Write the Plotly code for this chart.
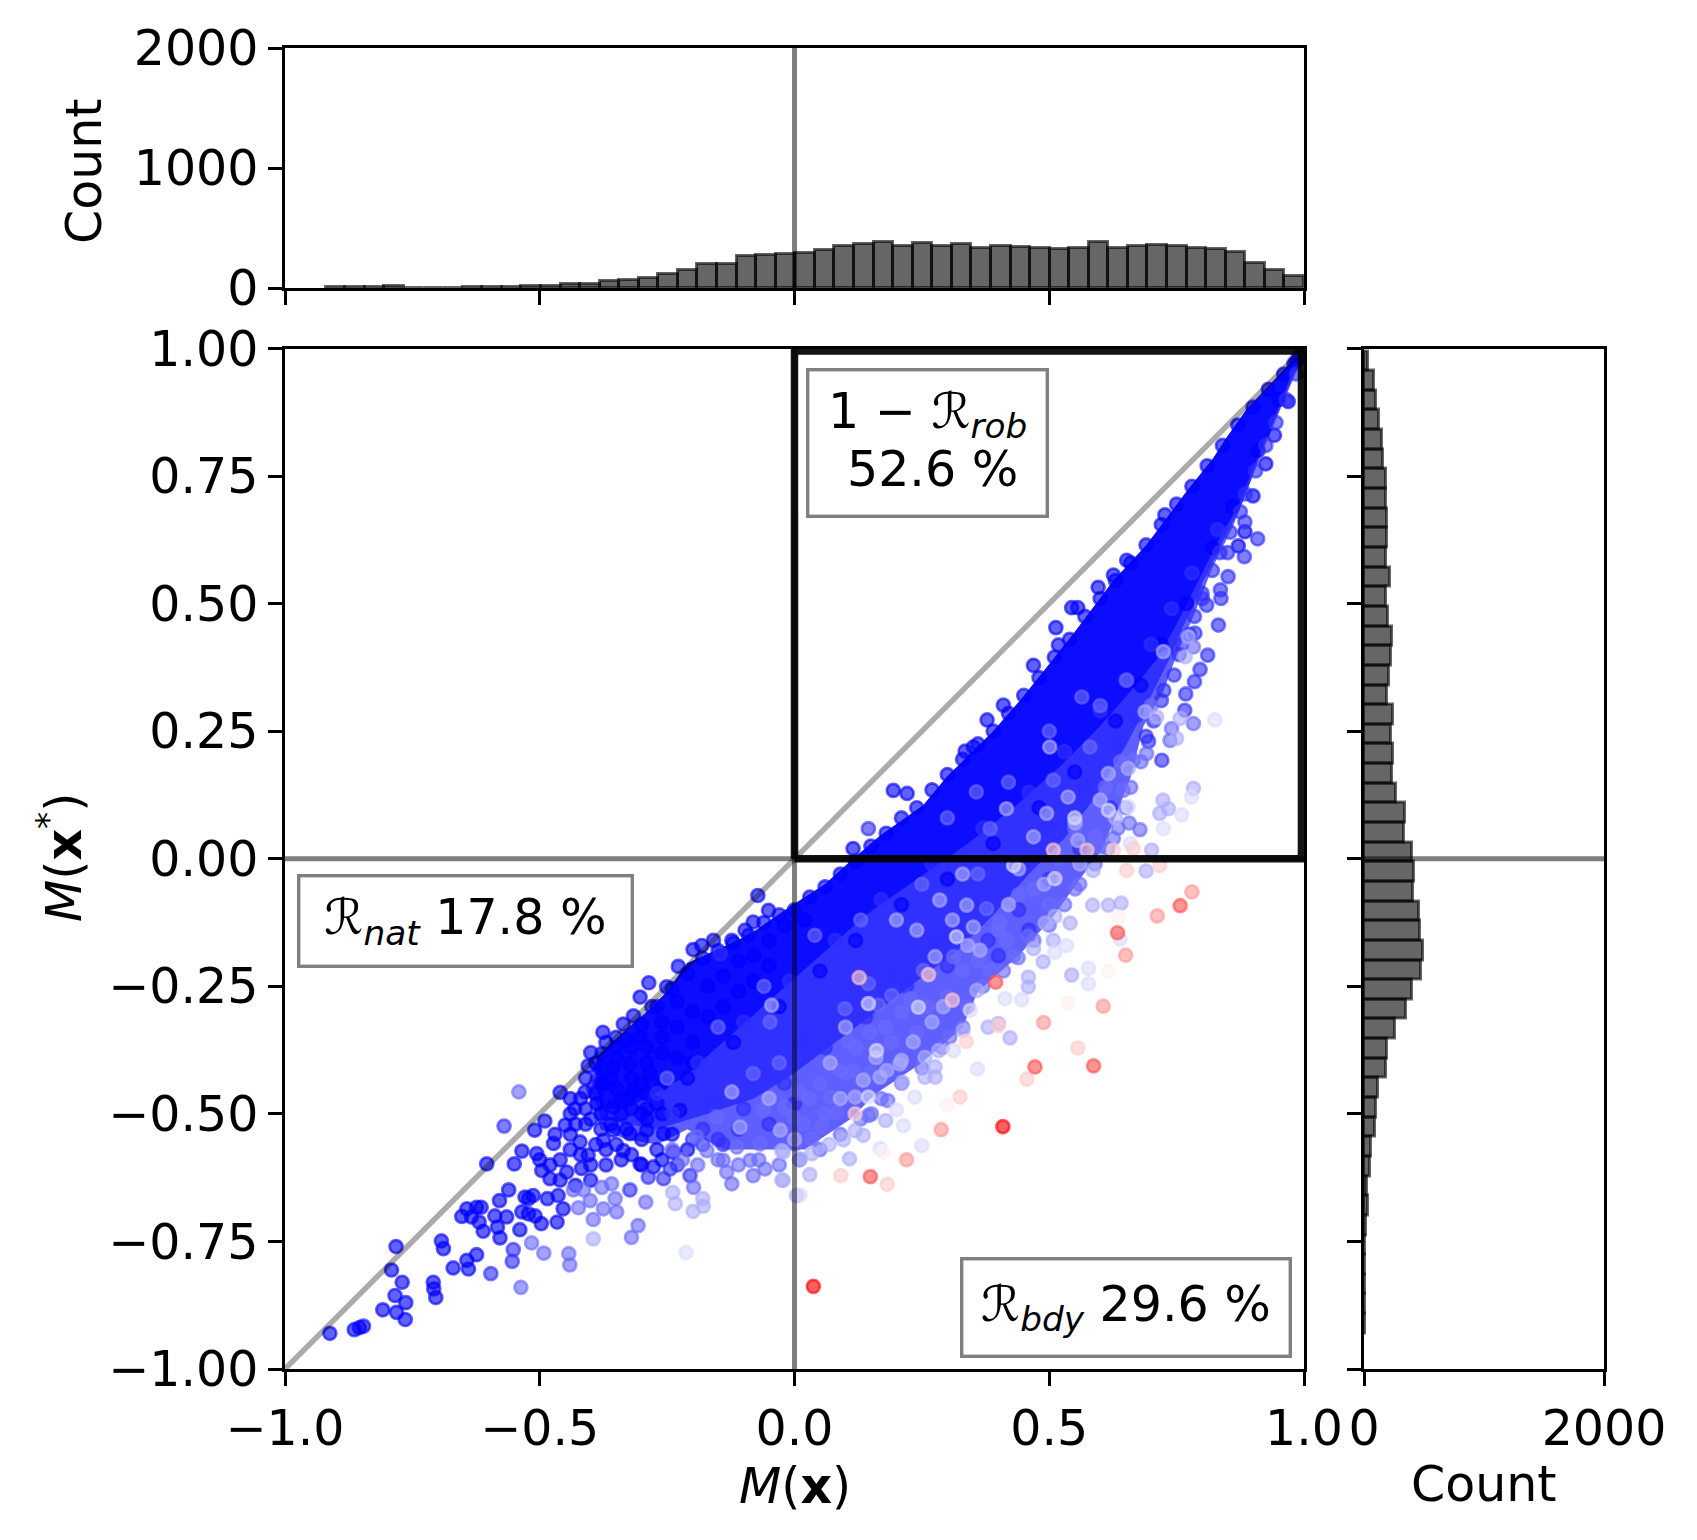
import plotly.graph_objects as go

W, H = 1697, 1540

# ---------- histogram counts ----------
top_bin_start, top_bin_width = -0.92, 0.0384
top_counts = [6,6,6,14,2,2,2,12,12,10,18,18,35,35,55,65,80,120,148,203,203,265,272,280,288,
              314,347,364,380,347,372,352,364,336,347,341,330,324,330,380,330,347,355,347,330,322,298,209,148,98]
right_bin_start, right_bin_width = -0.93, 0.0385
right_counts = [5,8,8,8,8,17,33,28,50,55,92,100,117,183,192,258,350,400,475,492,467,455,408,417,400,
                330,339,264,230,239,222,239,192,208,222,230,200,180,217,180,192,192,183,183,158,147,122,100,80,30]

# ---------- dense parts of the cloud, traced as outlines ----------
upper_edge = [(-.01,-.095),(.06,-.05),(.11,-.005),(.168,.045),(.253,.105),(.299,.16),(.39,.25),(.443,.31),
              (.495,.375),(.547,.44),(.626,.545),(.691,.615),(.77,.72),(.822,.785),(.848,.825),(.887,.88),(.972,.97),(.99,.985)]
lower_left_edge = [(-.385,-.385),(-.33,-.335),(-.29,-.30),(-.25,-.26),(-.21,-.205),(-.155,-.18),(-.09,-.15)]
cloud_outer = upper_edge + [(.985,.955),(.945,.86),(.915,.79),(.88,.70),(.86,.65),(.82,.57),(.785,.48),(.75,.40),(.725,.33),
               (.685,.26),(.66,.16),(.605,.02),(.56,-.04),(.51,-.11),(.44,-.19),(.36,-.26),(.33,-.33),(.25,-.40),(.16,-.46),
               (.11,-.51),(.02,-.57),(-.05,-.57),(-.14,-.57),(-.21,-.53),(-.27,-.56),(-.33,-.55),(-.38,-.53),(-.41,-.45)] + lower_left_edge
cloud_mid = upper_edge + [(.985,.96),(.945,.865),(.915,.795),(.88,.70),(.845,.63),(.80,.54),(.765,.46),(.735,.39),(.70,.32),(.655,.23),
             (.59,.12),(.53,.04),(.46,-.03),(.39,-.11),(.32,-.18),(.24,-.24),(.16,-.30),(.08,-.36),(.0,-.42),(-.08,-.47),(-.17,-.50),
             (-.27,-.53),(-.33,-.52),(-.38,-.51),(-.40,-.45)] + lower_left_edge
cloud_core = upper_edge + [(.98,.96),(.94,.86),(.91,.79),(.87,.69),(.83,.62),(.79,.54),(.75,.46),(.71,.39),(.67,.34),(.60,.26),(.52,.18),(.43,.10),
              (.34,.03),(.24,-.04),(.14,-.11),(.05,-.19),(-.04,-.27),(-.13,-.35),(-.22,-.43),(-.33,-.49),(-.38,-.49),(-.39,-.44)] + lower_left_edge

# ---------- individually readable points, grouped by colour value (-1 blue ... 0 white ... +1 red) ----------
pts_blue_full = [(-.912,-.93),(-.864,-.923),(-.854,-.919),(-.846,-.916),(-.808,-.884),(-.781,-.889),(-.764,-.903),(-.763,-.87),
 (-.784,-.856),(-.77,-.83),(-.791,-.806),(-.782,-.76),(-.704,-.86),(-.708,-.843),(-.709,-.83),(-.67,-.802),(-.64,-.804),(-.643,-.787),
 (-.624,-.776),(-.693,-.749),(-.689,-.764),(-.604,-.598),(-.55,-.598),(-.535,-.573),(-.46,-.458),(-.51,-.532),(-.49,-.514),
 (-.561,-.649),(-.579,-.67),(-.653,-.701),(-.643,-.686),(-.624,-.683),(-.615,-.683),(-.634,-.702),(-.619,-.712),(-.611,-.73),
 (-.588,-.70),(-.565,-.702),(-.583,-.722),(-.578,-.743),(-.539,-.727),(-.529,-.663),(-.513,-.66),(-.522,-.666),(-.535,-.692),
 (-.522,-.696),(-.509,-.70),(-.497,-.715),(-.485,-.666),(-.464,-.66),(-.454,-.686),(-.466,-.712),(-.506,-.578),(-.496,-.611),
 (-.48,-.627),(-.447,-.614),(-.418,-.607),(-.405,-.581),(-.473,-.558),(-.45,-.522),(-.421,-.555),(-.431,-.49),(-.411,-.457),
 (-.405,-.406),(-.378,-.382),(-.349,-.389),(-.323,-.402),(-.356,-.408),(-.375,-.441),(-.388,-.48),(-.356,-.487),(-.316,-.454),
 (-.284,-.421),(-.27,-.48),(-.356,-.532),(-.375,-.552),(-.336,-.572),(-.29,-.532),(-.277,-.604),(-.238,-.575),(-.323,-.539),
 (-.257,-.539),(-.225,-.493),(-.303,-.598),(-.286,-.243),(-.303,-.271),(-.228,-.211),(-.199,-.178),(-.182,-.17),(-.159,-.16),
 (-.123,-.16),(-.28,-.29),(-.316,-.308),(-.336,-.324),(-.376,-.34),(-.303,-.349),(-.072,-.072),(-.051,-.101),(-.097,-.14),
 (-.081,-.124),(-.251,-.251),(.596,.532),(.544,.492),(.556,.492),(.513,.453),(.518,.419),(.469,.379),(.41,.301),(.378,.272),
 (.351,.219),(.335,.211),(.194,.134),(.221,.128),(.115,.02),(.727,.674),(.652,.585),(.626,.556),(.969,.896),(.942,.83),(.925,.774),
 (.90,.711),(.884,.641),(.871,.613),(.95,.90),(.91,.80),(.86,.69),(.82,.61),(.77,.50),(.72,.42),(.68,.34),(.63,.27),(.55,.17),
 (.48,.10),(.39,.03),(.30,-.04),(.21,-.09),(.12,-.16),(.05,-.22),(-.03,-.29),(-.12,-.36),(-.21,-.43),(-.30,-.50),(.99,.985),(.98,.97),
 (-.30,-.325),(-.27,-.29),(-.24,-.255),(-.21,-.225),(-.18,-.195),(-.15,-.18),(-.12,-.165),(-.09,-.15),(-.06,-.125),(-.03,-.11),(0,-.10),
 (.03,-.075),(.06,-.055),(.09,-.03),(.12,-.005),(.15,.025),(.18,.05),(.21,.08),(.24,.10),(.27,.135),(.30,.165),(.33,.195),(.36,.225),
 (.39,.25),(.42,.285),(.45,.32),(.48,.355),(.51,.395),(.54,.43),(.57,.475),(.60,.51),(.63,.545),(.66,.58),(.69,.615),(.72,.655),(.75,.695),
 (.78,.73),(.81,.77),(.84,.81),(.87,.85),(.90,.885),(.93,.92),(.96,.95),(.985,.975),
 (-.44,-.57),(-.44,-.54),(-.41,-.52),(-.41,-.49),(-.41,-.43),(-.38,-.53),(-.38,-.50),(-.38,-.44),(-.38,-.41),(-.35,-.56),(-.35,-.45),
 (-.35,-.35),(-.35,-.37),(-.32,-.37),(-.32,-.58),(-.32,-.49),(-.32,-.46),(-.32,-.43),(-.29,-.37),(-.29,-.40),(-.29,-.46),(-.29,-.49),
 (-.26,-.32),(-.26,-.35),(-.26,-.38),(-.26,-.44),(-.23,-.28),(-.23,-.33),(-.23,-.39),(-.20,-.30),(-.20,-.36),(-.20,-.40),(-.17,-.25),
 (-.17,-.31),(-.14,-.23),(-.14,-.29),(-.11,-.20),(-.11,-.26),(-.08,-.19),(-.08,-.24),(-.05,-.16),(-.05,-.21),(-.02,-.13),(.02,-.12),
 (-.33,-.53),(-.30,-.55),(-.27,-.57),(-.24,-.54),(-.21,-.57),(-.30,-.60),(-.26,-.59),(-.34,-.50),(-.36,-.52),(-.39,-.56),(-.42,-.58),
 (-.40,-.60),(-.43,-.52),(-.46,-.59),(-.47,-.54),(-.44,-.47),(-.42,-.47),(-.40,-.38),(-.39,-.40),(-.37,-.36),(-.36,-.43),(-.34,-.47),
 (-.30,-.44),(-.29,-.51),(-.26,-.50),(-.33,-.355),(-.39,-.46),(-.40,-.51),(-.37,-.57),(-.37,-.60),(-.34,-.59),(-.48,-.60),(-.46,-.63),
 (-.43,-.64),(-.40,-.63),(-.50,-.59),(-.44,-.50)]

pts_blue_strong = [(.909,.627),(.883,.592),(.851,.553),(.836,.527),(.837,.51),(.809,.497),(.832,.458),(.786,.442),(.811,.399),(.796,.371),
 (.785,.347),(.768,.323),(.766,.291),(.721,.193),(.145,.059),(-.596,-.813),(-.554,-.789),(-.552,-.766),(-.57,-.524),(-.323,-.649),
 (-.146,-.186),(-.205,-.621),(-.244,-.608),(-.257,-.627),(-.287,-.624),(.884,.66),(.85,.60),(.80,.51),(.76,.42),(.72,.31),(.69,.24),
 (.62,.10),(.56,.02),(.50,-.04),(.44,-.10),(.38,-.16),(.30,-.21),(.22,-.25),(.14,-.31),(.06,-.37),(-.02,-.44),(-.10,-.49),(-.18,-.53),(.46,-.14),(.40,-.19),
 (.985,.95),(.965,.90),(.945,.855),(.925,.81),(.905,.76),(.885,.715),(.875,.68),(.855,.64),(.835,.60),(.82,.565),(.80,.52),(.785,.475),(.775,.44),
 (.755,.40),(.745,.36),(.725,.33),(.705,.27),(.695,.23),
 (.83,.645),(.78,.56),(.74,.49),(.70,.42),(.65,.35),(.60,.29),(.53,.21),(.46,.13),(.37,.06),(.27,-.01),(.17,-.08),(.08,-.16),(-.01,-.24),(-.10,-.32),
 (-.19,-.40),(-.27,-.46),(-.24,-.50),(-.16,-.47),(-.06,-.42),(.02,-.36),(.10,-.30),(.19,-.23),(.28,-.16),(.35,-.09),(.43,-.02),(.50,.06),(.57,.14),
 (.63,.22),(.67,.28),(-.14,-.56),(-.20,-.55),(-.11,-.53),(-.05,-.52),(.0,-.48),(-.18,-.56),(-.15,-.55),(-.23,-.60)]

pts_blue_mid = [(-.537,-.84),(-.516,-.753),(-.492,-.773),(-.443,-.774),(-.441,-.796),(-.541,-.457),(-.424,-.684),(-.434,-.649),(-.414,-.649),
 (-.395,-.707),(-.349,-.692),(-.378,-.644),(-.359,-.637),(-.352,-.666),(-.401,-.67),(-.375,-.686),(-.307,-.719),(-.32,-.742),(-.292,-.673),
 (-.048,-.32),(-.081,-.421),(-.153,-.506),(-.192,-.545),(-.14,-.591),(-.133,-.614),(-.123,-.637),(-.198,-.644),(-.081,-.621),(-.058,-.608),
 (-.087,-.591),(-.068,-.559),(-.172,-.572),(-.113,-.565),(-.061,-.493),(-.002,-.506),(.183,-.474),(.034,-.549),(.001,-.559),(.053,-.525),
 (.145,-.503),(.151,-.50),(.083,-.497),(.07,-.467),(.116,-.415),(.05,-.441),(.011,-.46),(.09,-.415),(.305,-.349),(.384,-.219),(.377,-.098),
 (.403,-.124),(.416,-.16),(.312,-.192),(.253,-.219),(.145,-.245),(.191,-.268),(.227,-.274),(.099,-.294),(.165,-.287),(.178,-.33),(.148,-.34),
 (.106,-.359),(-.019,-.487),(.017,-.519),(.551,-.059),(.439,-.194),(.459,-.152),(.783,.265),(.74,.255),(.678,.057),(.657,.07),(.626,.04),
 (.60,.023),(.59,.043),(.384,.059),(.357,.131),(.58,.219),(.652,.35),(.783,.415),(.737,.232),(.691,.206),(.665,.193),(.564,.317),(.508,.154),
 (.645,.134),(.42,.15),(.30,.08),(.50,.25),(.60,.30),(.25,-.05),(.13,-.12),(.36,-.03),(.04,-.15),(-.06,-.25),(-.15,-.33),(-.25,-.43),
 (.68,.19),(.66,.14),(.65,.10),(.635,.06),(.615,.02),(.59,-.01),(.56,-.05),(.53,-.09),(.50,-.13),(.47,-.16),(.43,-.19),(.41,-.22),(.37,-.25),
 (.34,-.29),(.33,-.33),(.29,-.37),(.25,-.41),(.21,-.44),(.17,-.47),(.13,-.51),(.09,-.54),(.05,-.57),(.01,-.59),(-.03,-.60),(-.07,-.59),(-.11,-.60),
 (-.15,-.59),(-.19,-.60),(-.24,-.57),(-.22,-.59),
 (.55,.06),(.47,-.06),(.40,-.14),(.33,-.22),(.26,-.29),(.19,-.36),(.10,-.42),(.03,-.47),(.52,.0),(.44,-.07),(.30,-.27),(.24,-.34),(.06,-.50),
 (.15,-.42),(.61,.14),(.64,.19),(.50,-.09),(.36,-.20),(-.03,-.40),(.12,-.37),(.21,-.30),(.70,.30)]

pts_blue_pale = [(-.239,-.654),(-.234,-.676),(-.199,-.691),(-.179,-.681),(-.18,-.666),(-.395,-.745),(-.045,-.287),(-.123,-.457),(-.107,-.526),
 (-.025,-.63),(-.025,-.572),(.004,-.66),(-.028,-.532),(.03,-.619),(.108,-.588),(.179,-.513),(.256,-.389),(.276,-.408),(.276,-.428),(.256,-.428),
 (.212,-.438),(.423,-.351),(.40,-.323),(.38,-.33),(.459,-.232),(.459,-.251),(.544,-.228),(.508,-.16),(.488,-.202),(.541,-.126),(.511,-.113),
 (.492,-.126),(.469,-.176),(.616,-.091),(.641,-.087),(.585,-.091),(.69,-.024),(.068,-.56),(.096,-.551),(.135,-.542),(.034,-.578),(.011,-.588),
 (-.022,-.63),(-.022,-.575),(.119,-.533),(.119,-.467),(.181,-.415),(.135,-.434),(.168,-.428),(.207,-.402),(.233,-.359),(.331,-.336),(.283,-.376),
 (.292,-.29),(.358,-.258),(.338,-.091),(.285,-.081),(.24,-.14),(.351,-.134),(.364,-.179),(.276,-.192),(.21,-.395),(.586,-.023),(.49,-.05),
 (.75,.236),(.783,.138),(.723,.115),(.734,.098),(.717,.089),(.701,.017),(.551,.07),(.556,.036),(.495,.089),(.537,.121),(.416,.098),(.469,.043),
 (.501,.219),(.655,.177),(.616,.167),(.724,.406),(.688,.288),(.711,.278),(.757,.275),(.767,.396),(.773,.435),(.60,.115),(.44,-.02),(.33,-.03),(.20,-.12),
 (.07,-.40),(.16,-.39),(.27,-.32),(.31,-.12),(.42,-.09),(.09,-.47),(.56,-.01),(.63,.08),(.10,-.33),(.0,-.55),(-.05,-.47),(.34,-.17)]

pts_blue_faint = [(-.213,-.772),(.011,-.659),(.168,-.568),(.25,-.562),(.214,-.523),(.236,-.467),(.20,-.492),(.145,-.467),(.359,-.412),(.312,-.376),
 (.413,-.274),(.446,-.276),(.577,-.215),(.577,-.245),(.511,-.183),(.534,-.17),(.639,-.157),(.161,-.376),(.145,-.284),(.243,-.291),(.345,-.297),
 (.318,-.153),(.825,.272),(.779,.121),(.76,.086),(.724,.059),(.655,.102),(.659,.03),(.511,-.039),(.616,.095),(.55,.08),(.43,-.013)]

pts_red_faint = [(.182,-.638),(.091,-.621),(.325,-.467),(.456,-.432),(.556,-.371),(.119,-.50),(.31,-.277),(.263,-.227),(.127,-.233),(.652,-.023),
 (.717,-.013),(.337,-.358),(.40,-.327),(.665,.02),(.508,.017),(.574,.017),(.626,.017)]
pts_red_veryfaint = [(.616,-.221),(.537,-.283),(.636,-.114),(.299,-.483),(.174,-.575)]
pts_red_mid = [(.22,-.59),(.288,-.531),(.606,-.289),(.489,-.321),(.78,-.065),(.712,-.112),(.65,-.189)]
pts_red_strong = [(.472,-.408),(.587,-.406),(.149,-.623),(.757,-.092),(.634,-.145),(.395,-.242)]
pts_red_full = [(.037,-.838),(.409,-.525)]

point_groups = [(-1.0, pts_blue_full), (-.82, pts_blue_strong), (-.58, pts_blue_mid), (-.32, pts_blue_pale), (-.14, pts_blue_faint),
                (.06, pts_red_veryfaint), (.2, pts_red_faint), (.4, pts_red_mid), (.68, pts_red_strong), (1.0, pts_red_full)]

x_ticks = [-1.0, -0.5, 0.0, 0.5, 1.0]
y_ticks = [-1.0, -0.75, -0.5, -0.25, 0.0, 0.25, 0.5, 0.75, 1.0]
count_ticks_top = [0, 1000, 2000]
count_ticks_right = [0, 2000]

FONT = "DejaVu Sans"
FS = 49

def rgba(v, a):
    if v < 0:
        g = round(255 * (1 + v))
        return f"rgba({g},{g},255,{a})"
    g = round(255 * (1 - v))
    return f"rgba(255,{g},{g},{a})"

fig = go.Figure()

# histograms
bar_style = dict(color="rgba(0,0,0,0.6)", line=dict(color="rgba(0,0,0,0.6)", width=3))
fig.add_trace(go.Bar(x=[top_bin_start + (i + .5) * top_bin_width for i in range(len(top_counts))], y=top_counts,
                     width=top_bin_width, xaxis="x2", yaxis="y2", marker=bar_style))
fig.add_trace(go.Bar(y=[right_bin_start + (i + .5) * right_bin_width for i in range(len(right_counts))], x=right_counts,
                     width=right_bin_width, orientation="h", xaxis="x3", yaxis="y3", marker=bar_style))

# dense cloud
for poly, col in [(cloud_outer, "rgb(95,95,255)"), (cloud_mid, "rgb(48,48,255)"), (cloud_core, "rgb(12,12,255)")]:
    fig.add_trace(go.Scatter(x=[p[0] for p in poly], y=[p[1] for p in poly], mode="lines", fill="toself",
                             fillcolor=col, line=dict(width=0, color=col), xaxis="x", yaxis="y", hoverinfo="skip"))

# readable points
for val, pts in point_groups:
    fig.add_trace(go.Scatter(x=[p[0] for p in pts], y=[p[1] for p in pts], mode="markers", xaxis="x", yaxis="y",
                             marker=dict(size=13, color=rgba(val, .62), line=dict(color=rgba(val, .62), width=2.7))))

# reference lines
def line(x, y, color, width, xa="x", ya="y"):
    fig.add_trace(go.Scatter(x=x, y=y, mode="lines", line=dict(color=color, width=width), xaxis=xa, yaxis=ya, hoverinfo="skip"))

line([-1, 1], [-1, 1], "rgba(0,0,0,0.33)", 5.5)
line([0, 0], [-1, 1], "rgba(0,0,0,0.5)", 5)
line([-1, 1], [0, 0], "rgba(0,0,0,0.5)", 5)
line([0, 0], [0, 2000], "rgba(0,0,0,0.5)", 5, "x2", "y2")
line([0, 2000], [0, 0], "rgba(0,0,0,0.5)", 5, "x3", "y3")
line([0, .995, .995, 0, 0], [.0, .0, .995, .995, .0], "rgba(0,0,0,0.92)", 7.5)

axis_common = dict(showline=True, linecolor="black", linewidth=2.5, mirror=True, ticks="outside", ticklen=14, tickwidth=2.5,
                   tickcolor="black", showgrid=False, zeroline=False, automargin=False,
                   tickfont=dict(family=FONT, size=FS, color="black"))

def dom_x(a, b): return [a / W, b / W]
def dom_y(a, b): return [1 - b / H, 1 - a / H]

boxes = [
    (-.646, -.1216, 330, 87, "ℛ<sub><i>nat</i></sub> 17.8 %"),
    (.650, -.879, 325, 94, "ℛ<sub><i>bdy</i></sub> 29.6 %"),
    (.262, .814, 236, 143, " "),
]
annotations = [dict(x=bx, y=by, xref="x", yref="y", text=t, showarrow=False, width=bw, height=bh, align="center", valign="middle",
                    bgcolor="white", bordercolor="rgb(128,128,128)", borderwidth=3.4, borderpad=0,
                    font=dict(family=FONT, size=FS, color="black")) for bx, by, bw, bh, t in boxes]
rob_lines = [(.262, .870, "1 − ℛ<sub><i>rob</i></sub>"), (.270, .762, "52.6 %")]
annotations += [dict(x=tx, y=ty, xref="x", yref="y", text=t, showarrow=False, font=dict(family=FONT, size=FS, color="black"))
                for tx, ty, t in rob_lines]
titles = [(795, 1486, 0, "<i>M</i>(<b>x</b>)"), (60, 858, -90, "<i>M</i>(<b>x</b><sup>*</sup>)"),
          (84, 171, -90, "Count"), (1484, 1484, 0, "Count")]
annotations += [dict(x=px / W, y=1 - py / H, xref="paper", yref="paper", xanchor="center", yanchor="middle", text=t, textangle=ang,
                     showarrow=False, font=dict(family=FONT, size=FS, color="black")) for px, py, ang, t in titles]

fig.update_layout(
    width=W, height=H, autosize=False, showlegend=False, plot_bgcolor="white", paper_bgcolor="white",
    margin=dict(l=0, r=0, t=0, b=0), bargap=0, font=dict(family=FONT, size=FS, color="black"),
    xaxis=dict(domain=dom_x(285, 1304), range=[-1, 1], anchor="y", tickvals=x_ticks, tickformat=".1f", **axis_common),
    yaxis=dict(domain=dom_y(348.5, 1369), range=[-1, 1], anchor="x", tickvals=y_ticks, tickformat=".2f", **axis_common),
    xaxis2=dict(domain=dom_x(285, 1304), range=[-1, 1], anchor="y2", tickvals=x_ticks, showticklabels=False, **axis_common),
    yaxis2=dict(domain=dom_y(48, 288), range=[0, 2000], anchor="x2", tickvals=count_ticks_top, **axis_common),
    xaxis3=dict(domain=dom_x(1364, 1604), range=[0, 2000], anchor="y3", tickvals=count_ticks_right, **axis_common),
    yaxis3=dict(domain=dom_y(348.5, 1369), range=[-1, 1], anchor="x3", tickvals=y_ticks, showticklabels=False, **axis_common),
    annotations=annotations,
)

fig.write_html("out.html", config={"displayModeBar": False},
               post_script="document.body.style.margin='0';document.body.style.overflow='hidden';window.dispatchEvent(new Event('resize'));")
